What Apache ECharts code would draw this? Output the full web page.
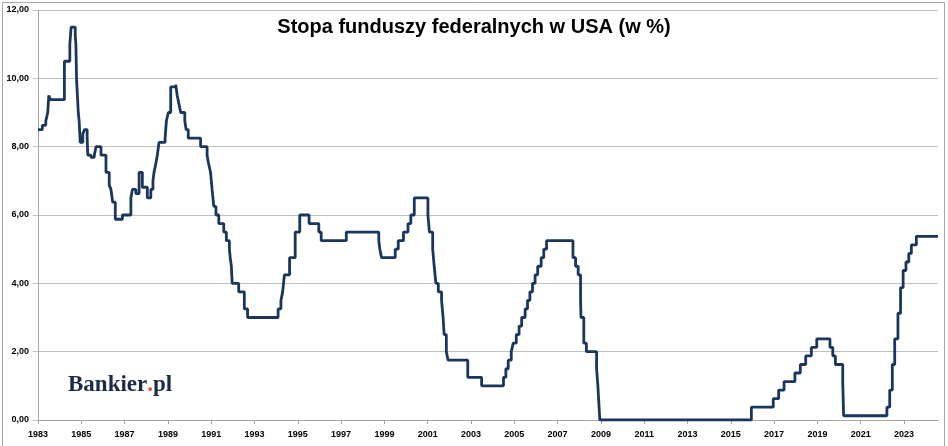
<!DOCTYPE html>
<html>
<head>
<meta charset="utf-8">
<script src="https://cdn.jsdelivr.net/npm/echarts@6/dist/echarts.min.js"></script>
<style>
html,body{margin:0;padding:0;background:#fff;}
#chart{width:948px;height:446px;}
</style>
</head>
<body>
<div id="chart"></div>
<script>
// Change dates (decimal years) and the rate in force from that date (%)
const changeDates = [
  1983.00,1983.20,1983.36,1983.45,1983.50,1983.57,1984.22,1984.47,1984.50,1984.53,
  1984.72,1984.75,1984.78,1984.82,1984.86,1984.90,1984.95,1985.07,1985.15,1985.27,
  1985.30,1985.45,1985.60,1985.68,1985.91,1986.14,1986.29,1986.37,1986.45,1986.57,
  1986.90,1987.29,1987.36,1987.52,1987.67,1987.82,1988.05,1988.21,1988.31,1988.36,
  1988.44,1988.51,1988.59,1988.87,1988.93,1989.02,1989.13,1989.36,1989.43,1989.51,
  1989.59,1989.78,1989.84,1989.94,1990.51,1990.81,1990.88,1990.97,1991.04,1991.12,
  1991.22,1991.35,1991.58,1991.70,1991.84,1991.88,1991.93,1991.97,1992.27,1992.53,
  1992.68,1994.09,1994.22,1994.30,1994.38,1994.62,1994.88,1995.09,1995.52,1995.97,
  1996.08,1997.24,1998.74,1998.79,1998.87,1999.50,1999.64,1999.88,2000.09,2000.22,
  2000.38,2001.01,2001.08,2001.23,2001.30,2001.38,2001.49,2001.64,2001.71,2001.76,
  2001.86,2001.94,2002.85,2003.49,2004.50,2004.61,2004.72,2004.86,2004.95,2005.09,
  2005.22,2005.34,2005.50,2005.61,2005.72,2005.84,2005.96,2006.08,2006.24,2006.36,
  2006.49,2007.71,2007.83,2007.95,2008.06,2008.08,2008.21,2008.33,2008.80,2008.86,
  2008.95,2015.95,2016.96,2017.21,2017.46,2017.96,2018.21,2018.46,2018.72,2018.97,
  2019.58,2019.71,2019.83,2020.17,2020.21,2022.21,2022.34,2022.46,2022.57,2022.72,
  2022.84,2022.96,2023.09,2023.22,2023.34,2023.57,2024.57
];
const rates = [
  8.5,8.625,8.75,9.0,9.5,9.375,10.5,11.0,11.25,11.5,
  11.25,11.0,10.0,9.5,9.0,8.75,8.125,8.375,8.5,8.25,
  7.75,7.6875,7.75,8.0,7.75,7.25,6.875,6.75,6.375,5.875,
  6.0,6.5,6.75,6.625,7.25,6.8125,6.5,6.75,7.0,7.25,
  7.5,7.75,8.125,8.25,8.75,9.0,9.75,9.8125,9.5,9.25,
  9.0,8.75,8.5,8.25,8.0,7.75,7.5,7.25,6.75,6.25,
  6.0,5.75,5.5,5.25,5.0,4.75,4.5,4.0,3.75,3.25,
  3.0,3.25,3.5,3.75,4.25,4.75,5.5,6.0,5.75,5.5,
  5.25,5.5,5.25,5.0,4.75,5.0,5.25,5.5,5.75,6.0,
  6.5,6.0,5.5,5.0,4.5,4.0,3.75,3.5,3.0,2.5,
  2.0,1.75,1.25,1.0,1.25,1.5,1.75,2.0,2.25,2.5,
  2.75,3.0,3.25,3.5,3.75,4.0,4.25,4.5,4.75,5.0,
  5.25,4.75,4.5,4.25,3.5,3.0,2.25,2.0,1.5,1.0,
  0.0,0.375,0.625,0.875,1.125,1.375,1.625,1.875,2.125,2.375,
  2.125,1.875,1.625,1.125,0.125,0.375,0.875,1.625,2.375,3.125,
  3.875,4.375,4.625,4.875,5.125,5.375,5.375
];
const yTicks = [0, 2, 4, 6, 8, 10, 12];
const xStartYear = 1983;
const xEndYear = 2024.57;
const titleText = 'Stopa funduszy federalnych w USA (w %)';

const seriesData = changeDates.map((d, i) => [d, rates[i]]);

const chart = echarts.init(document.getElementById('chart'), null, {renderer: 'canvas'});
chart.setOption({
  animation: false,
  backgroundColor: '#ffffff',
  title: {
    text: titleText,
    left: 'center',
    top: 16,
    padding: [0, 0, 0, 8],
    textStyle: {
      fontFamily: 'Liberation Sans, Arial, sans-serif',
      fontWeight: 'bold',
      fontSize: 20,
      color: '#000000',
      lineHeight: 22
    }
  },
  grid: {left: 38, right: 10, top: 10, bottom: 26, containLabel: false},
  xAxis: {
    type: 'value',
    min: xStartYear,
    max: xEndYear,
    interval: 2,
    axisLine: {show: true, lineStyle: {color: '#a6a6a6', width: 1}},
    axisTick: {show: true, length: 4, lineStyle: {color: '#a6a6a6'}},
    splitLine: {show: false},
    axisLabel: {
      margin: 10,
      fontFamily: 'Liberation Sans, Arial, sans-serif',
      fontWeight: 'bold',
      fontSize: 9,
      color: '#000000',
      showMaxLabel: false,
      formatter: v => (Number.isInteger(v) ? String(v) : '')
    }
  },
  yAxis: {
    type: 'value',
    min: yTicks[0],
    max: yTicks[yTicks.length - 1],
    interval: 2,
    axisLine: {show: true, lineStyle: {color: '#a6a6a6', width: 1}},
    axisTick: {show: true, length: 5, lineStyle: {color: '#bfbfbf'}},
    splitLine: {show: true, lineStyle: {color: '#bfbfbf', width: 1}},
    axisLabel: {
      margin: 9,
      fontFamily: 'Liberation Sans, Arial, sans-serif',
      fontWeight: 'bold',
      fontSize: 9,
      color: '#000000',
      formatter: v => v.toFixed(2).replace('.', ',')
    }
  },
  graphic: [
    {
      type: 'rect',
      left: 0, top: 0,
      shape: {x: 0.5, y: 0.5, width: 942, height: 444},
      style: {fill: 'none', stroke: '#a6a6a6', lineWidth: 1},
      silent: true
    },
    {
      type: 'text',
      left: 68,
      top: 374,
      style: {
        text: '{b|Bankier}{d|.}{b|pl}',
        rich: {
          b: {fontFamily: 'Liberation Serif, Times New Roman, serif', fontWeight: 'bold', fontSize: 23, fill: '#1b2a4a', color: '#1b2a4a'},
          d: {fontFamily: 'Liberation Serif, Times New Roman, serif', fontWeight: 'bold', fontSize: 23, fill: '#e8542c', color: '#e8542c'}
        }
      },
      silent: true
    }
  ],
  series: [{
    type: 'line',
    step: 'end',
    data: seriesData,
    showSymbol: false,
    symbol: 'none',
    lineStyle: {color: '#1b365d', width: 2.8},
    clip: true
  }]
});
</script>
</body>
</html>
